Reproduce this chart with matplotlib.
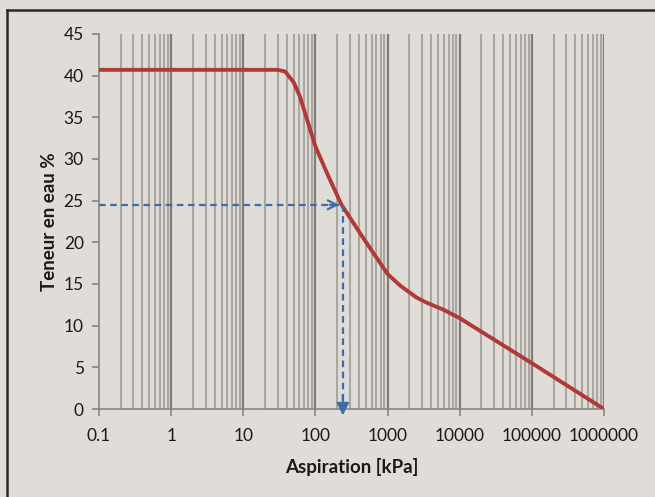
import numpy as np
import matplotlib
matplotlib.use("Agg")
import matplotlib.pyplot as plt
from matplotlib.ticker import LogLocator, FixedLocator, NullFormatter

plt.rcParams['font.family'] = ['Lato', 'DejaVu Sans']

# Courbe de rétention
aspiration = [0.1, 1, 10, 30, 38, 50, 61, 80, 100, 150, 230, 470, 1000, 1500, 2500, 3400, 6000, 10000, 100000, 1000000]
teneur = [40.7, 40.7, 40.7, 40.7, 40.5, 39.2, 37.5, 34.2, 31.5, 28.0, 24.5, 20.4, 16.2, 14.8, 13.4, 12.8, 11.9, 10.9, 5.5, 0.0]

# Lecture sur la courbe
lecture_teneur = 24.5
lecture_aspiration = 240

x_ticks = [0.1, 1, 10, 100, 1000, 10000, 100000, 1000000]
x_labels = ["0.1", "1", "10", "100", "1000", "10000", "100000", "1000000"]
y_ticks = [0, 5, 10, 15, 20, 25, 30, 35, 40, 45]

bg = "#e0dcd8"
fig = plt.figure(figsize=(6.55, 4.97), dpi=100, facecolor=bg)
ax = fig.add_axes([99 / 655, 1 - 409 / 497, 505 / 655, 375 / 497])
ax.set_facecolor(bg)

# outer frame (only top and left visible, corner at 7,10 px)
fig.add_artist(plt.Line2D([7, 700], [487, 487], transform=None, color="#2a2a2a", linewidth=1.8))
fig.add_artist(plt.Line2D([7, 7], [-50, 487], transform=None, color="#2a2a2a", linewidth=1.8))

ax.set_xscale("log")
ax.set_xlim(0.1, 1000000)
ax.set_ylim(0, 45)

# vertical grid
minor = [m * 10.0 ** e for e in range(-1, 6) for m in range(2, 10)]
for v in minor:
    ax.axvline(v, color="#aaa7a3", linewidth=1.5, zorder=1)
for v in x_ticks[1:]:
    ax.axvline(v, color="#807e7b", linewidth=1.6, zorder=1)

ax.plot(aspiration, teneur, color="#b03a36", linewidth=2.8, zorder=3, solid_capstyle="butt")

blue = "#3b6ea8"
ax.plot([0.1, lecture_aspiration * 0.93], [lecture_teneur, lecture_teneur], color=blue,
        linestyle=(0, (3, 2)), linewidth=1.6, zorder=4, clip_on=False)
ax.annotate("", xy=(lecture_aspiration * 0.97, lecture_teneur), xytext=(lecture_aspiration * 0.6, lecture_teneur),
            arrowprops=dict(arrowstyle="->", color=blue, lw=1.6, mutation_scale=16), zorder=4)
ax.plot([lecture_aspiration, lecture_aspiration], [lecture_teneur, -0.3], color=blue,
        linestyle=(0, (3, 2)), linewidth=1.6, zorder=4, clip_on=False)
ax.annotate("", xy=(lecture_aspiration, -1.1), xytext=(lecture_aspiration, 2),
            arrowprops=dict(arrowstyle="-|>", color=blue, lw=1.6, mutation_scale=18),
            annotation_clip=False, zorder=4)

ax.xaxis.set_major_locator(FixedLocator(x_ticks))
ax.set_xticklabels(x_labels)
ax.xaxis.set_minor_locator(LogLocator(subs=[]))
ax.xaxis.set_minor_formatter(NullFormatter())
ax.set_yticks(y_ticks)

for s in ["top", "right"]:
    ax.spines[s].set_visible(False)
for s in ["left", "bottom"]:
    ax.spines[s].set_color("#868686")
    ax.spines[s].set_linewidth(1.2)
ax.tick_params(axis="both", which="major", direction="out", length=5, width=1.2, color="#868686",
               labelsize=12.5, labelcolor="#1a1a1a")
ax.tick_params(axis="x", pad=9)
ax.tick_params(axis="y", pad=6)

ax.set_xlabel("Aspiration [kPa]", fontsize=13.5, fontweight="bold", color="#1a1a1a", labelpad=10)
ax.set_ylabel("Teneur en eau %", fontsize=13.5, fontweight="bold", color="#1a1a1a", labelpad=4)

fig.savefig("out.png", dpi=100, facecolor=bg)
